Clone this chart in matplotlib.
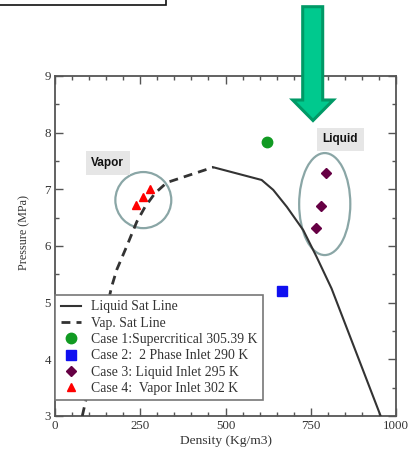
import matplotlib
matplotlib.use("Agg")
import matplotlib.pyplot as plt
from matplotlib.patches import Ellipse, Polygon, Rectangle
from matplotlib.ticker import MultipleLocator

# ---- data ----
liq_density = [464, 606, 640, 680, 728, 767, 811, 955]
liq_pressure = [7.39, 7.165, 6.99, 6.69, 6.28, 5.81, 5.25, 3.0]

vap_density = [80, 166, 181, 210, 240, 264, 293, 328, 464]
vap_pressure = [3.0, 5.28, 5.58, 5.99, 6.43, 6.69, 6.93, 7.12, 7.39]

case1_density = [621]
case1_pressure = [7.84]
case2_density = [665]
case2_pressure = [5.21]
case3_density = [794, 779, 765]
case3_pressure = [7.29, 6.71, 6.31]
case4_density = [237, 259, 279]
case4_pressure = [6.72, 6.86, 7.00]

labels = ["Liquid Sat Line", "Vap. Sat Line", "Case 1:Supercritical 305.39 K",
          "Case 2:  2 Phase Inlet 290 K", "Case 3: Liquid Inlet 295 K",
          "Case 4:  Vapor Inlet 302 K"]
xticks = [0, 250, 500, 750, 1000]
yticks = [3, 4, 5, 6, 7, 8, 9]

W, H = 417, 458
serif = "Liberation Serif"
fig = plt.figure(figsize=(W / 100, H / 100), dpi=100)
ax = fig.add_axes([55 / W, 1 - 416 / H, 341 / W, 340 / H])

ax.plot(liq_density, liq_pressure, '-', color='#333333', lw=1.5, label=labels[0], zorder=3)
ax.plot(vap_density, vap_pressure, '--', color='#333333', lw=2.0, dashes=(3.2, 2.2),
        label=labels[1], zorder=3)
ax.plot(case1_density, case1_pressure, 'o', color='#119a22', ms=7.5, ls='none', label=labels[2], zorder=4)
ax.plot(case2_density, case2_pressure, 's', color='#1010f0', ms=6.5, ls='none', label=labels[3], zorder=4)
ax.plot(case3_density, case3_pressure, 'D', color='#660044', ms=5.5, ls='none', label=labels[4], zorder=4)
ax.plot(case4_density, case4_pressure, '^', color='#ff0000', ms=5.5, ls='none', label=labels[5], zorder=4)

# ellipses around groups
ax.add_patch(Ellipse((259, 6.81), 164, 0.99, fill=False, ec='#8aa6a6', lw=1.6, zorder=2))
ax.add_patch(Ellipse((791, 6.74), 150, 1.8, fill=False, ec='#8aa6a6', lw=1.6, zorder=2))

# region labels
box = dict(boxstyle='square,pad=0.5', fc='#e6e6e6', ec='none')
ax.text(155, 7.465, "Vapor", family="Liberation Sans", weight='bold', fontsize=8.5,
        ha='center', va='center', color='#111111', bbox=box, zorder=5)
ax.text(837, 7.88, "Liquid", family="Liberation Sans", weight='bold', fontsize=8.5,
        ha='center', va='center', color='#111111', bbox=box, zorder=5)

ax.set_xlim(0, 1000)
ax.set_ylim(3, 9)
ax.set_xticks(xticks)
ax.set_yticks(yticks)
ax.xaxis.set_minor_locator(MultipleLocator(50))
ax.yaxis.set_minor_locator(MultipleLocator(0.5))
ax.tick_params(which='both', direction='in', top=True, right=True, colors='#555555',
               labelcolor='#333333', labelsize=9.3, width=1.0)
ax.tick_params(which='major', length=5.5, pad=3)
ax.tick_params(which='minor', length=2.8)
for lab in ax.get_xticklabels() + ax.get_yticklabels():
    lab.set_family(serif)
for s in ax.spines.values():
    s.set_color('#555555')
    s.set_linewidth(1.3)

ax.set_xlabel("Density (Kg/m3)", family=serif, fontsize=9.7, color='#333333')
ax.set_ylabel("Pressure (MPa)", family=serif, fontsize=8.7, color='#333333')
ax.xaxis.set_label_coords(0.50, -0.056)
ax.yaxis.set_label_coords(-0.073, 0.541)

leg = ax.legend(loc='upper left', bbox_to_anchor=(0.0, 0.356), borderaxespad=0,
                prop={'family': serif, 'size': 9.9}, frameon=True, fancybox=False,
                edgecolor='#777777', handlelength=1.5, handletextpad=0.7,
                labelspacing=0.24, borderpad=0.4, framealpha=1)
leg.get_frame().set_linewidth(1.2)
for t in leg.get_texts():
    t.set_color('#333333')
leg.set_zorder(6)

# decorative arrow (figure pixel coordinates)
pts = [(302.7, 6.7), (322.7, 6.7), (322.7, 100), (333.3, 100), (313, 120.5),
       (292.7, 100), (302.7, 100)]
arrow = Polygon([(x / W, 1 - y / H) for x, y in pts], closed=True,
                transform=fig.transFigure, fc='#00c98e', ec='#009966', lw=2.2, zorder=10)
fig.add_artist(arrow)

# partial box at top-left
rect = Rectangle((-3 / W, 1 - 4.5 / H), 169 / W, 12 / H, transform=fig.transFigure,
                 fc='white', ec='#111111', lw=1.2, zorder=10)
fig.add_artist(rect)

fig.savefig("out.png", dpi=100)
